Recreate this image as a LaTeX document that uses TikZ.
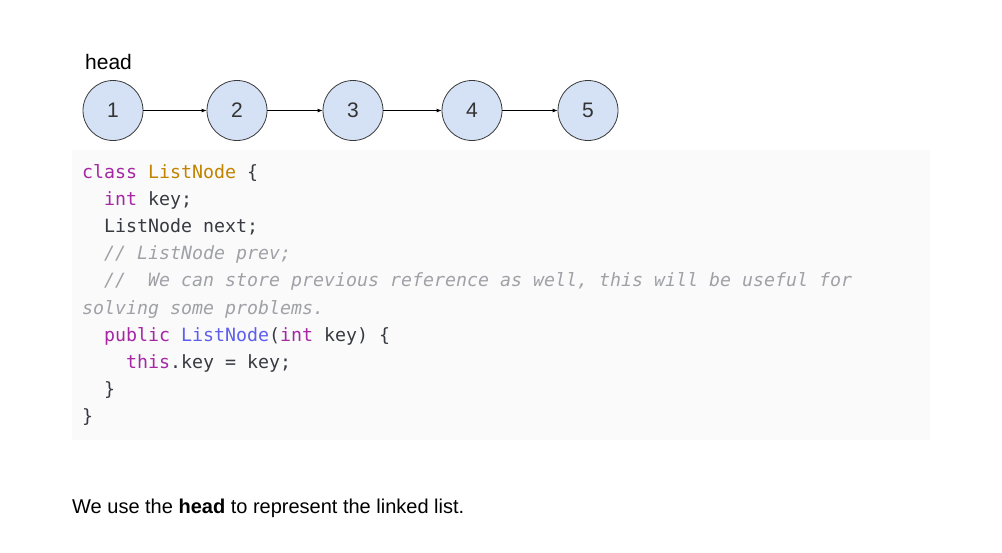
\documentclass[tikz,border=0pt]{standalone}
\usepackage{fontspec}
\setmainfont{Liberation Sans}
\newfontfamily\codefont{DejaVu Sans Mono}
\usetikzlibrary{arrows.meta}
\definecolor{codebg}{HTML}{FAFAFA}
\definecolor{codetext}{HTML}{383A42}
\definecolor{kwcolor}{HTML}{A626A4}
\definecolor{clscolor}{HTML}{C18401}
\definecolor{fncolor}{HTML}{5F5FEF}
\definecolor{cmtcolor}{HTML}{A0A1A7}
\definecolor{nodefill}{HTML}{D5E1F5}
\definecolor{nodeline}{HTML}{3A3A3A}
\def\kwd#1{\textcolor{kwcolor}{#1}}
\def\clsname#1{\textcolor{clscolor}{#1}}
\def\fnname#1{\textcolor{fncolor}{#1}}
\def\cmnt#1{\textcolor{cmtcolor}{\itshape #1}}
\def\lineSkip{27.2}
\def\charWidth{11}

\begin{document}
\begin{tikzpicture}[x=1pt,y=-1pt,
    listnode/.style={circle,draw=nodeline,fill=nodefill,line width=0.8pt,
        minimum size=60pt,inner sep=0pt,text=black!80,
        font=\fontsize{21}{21}\selectfont},
    link/.style={-{Latex[length=5pt,width=4pt]},line width=0.8pt,black},
    codeline/.style={anchor=base west,inner sep=0pt,text=codetext,
        font=\codefont\fontsize{18.27}{27}\selectfont},
    plaintext/.style={anchor=base west,inner sep=0pt,
        font=\fontsize{20}{24}\selectfont}]
\useasboundingbox (0,0) rectangle (1002,552);
% code background
\fill [codebg] (72,150) rectangle (930,440);
% list nodes
\foreach \x/\n in {113/1,237/2,353/3,472/4,588/5}
{
	\node [listnode] (n\n) at (\x,110.5) {\n};
}
\foreach \a/\b in {1/2,2/3,3/4,4/5}
{
	\draw [link] (n\a) -- (n\b);
}
\node [plaintext,font=\fontsize{21}{24}\selectfont] (head) at (85,69) {head};
% code lines (indent in characters / line number)
\foreach \ind/\row/\txt in {
    0/0/{\kwd{class} \clsname{ListNode} \{},
    2/1/{\kwd{int} key;},
    2/2/{ListNode next;},
    2/3/{\cmnt{// ListNode prev;}},
    2/4/{\cmnt{//~ We can store previous reference as well, this will be useful for}},
    0/5/{\cmnt{solving some problems.}},
    2/6/{\kwd{public} \fnname{ListNode}(\kwd{int} key) \{},
    4/7/{\kwd{this}.key = key;},
    2/8/\},
    0/9/\}}
{
	\node [codeline] (code\row) at (82+\ind*\charWidth,178+\row*\lineSkip) {\txt};
}
\node [plaintext] (caption) at (72,513) {We use the \textbf{head} to represent the linked list.};
\end{tikzpicture}
\end{document}
